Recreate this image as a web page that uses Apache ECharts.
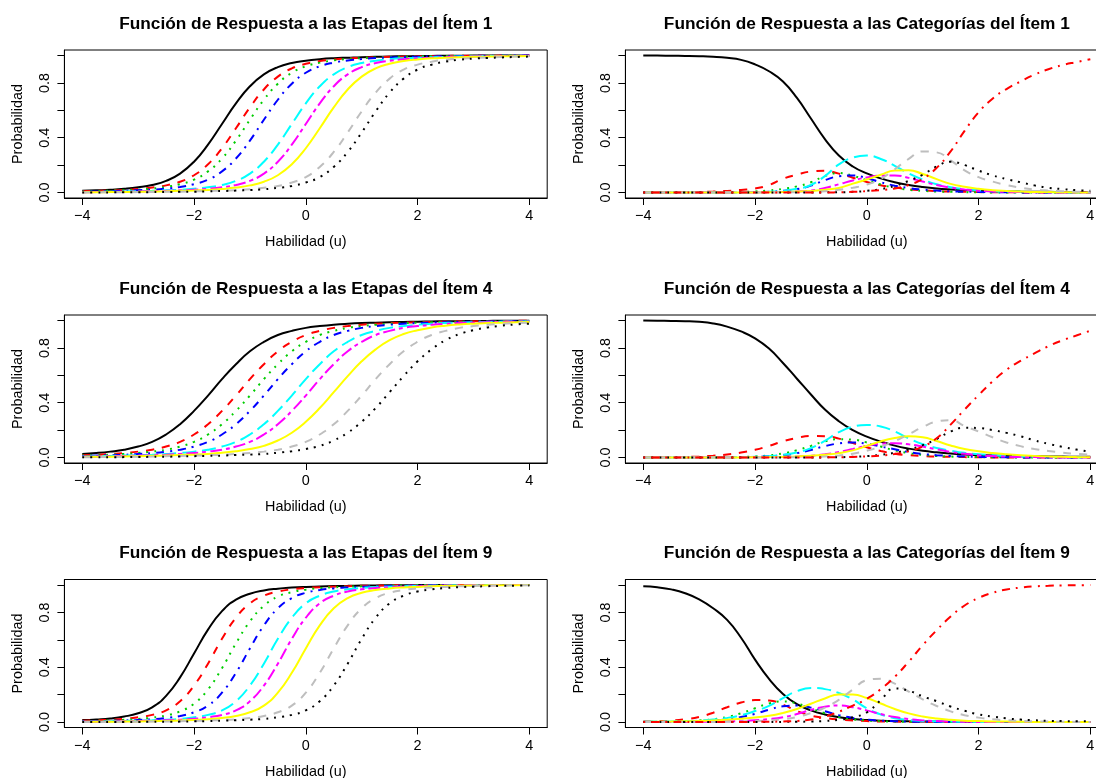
<!DOCTYPE html>
<html>
<head>
<meta charset="utf-8">
<script src="https://cdn.jsdelivr.net/npm/echarts@6/dist/echarts.min.js"></script>
<style>
  html, body { margin: 0; padding: 0; background: #ffffff; }
  #main { width: 1096px; height: 778px; }
</style>
</head>
<body>
<div id="main"></div>
<script>
// Ability grid shared by every curve
const habilidad = [-4, -3.75, -3.5, -3.25, -3, -2.75, -2.5, -2.25, -2, -1.75, -1.5, -1.25, -1, -0.75, -0.5, -0.25,
  0, 0.25, 0.5, 0.75, 1, 1.25, 1.5, 1.75, 2, 2.25, 2.5, 2.75, 3, 3.25, 3.5, 3.75, 4];

// Cumulative step response curves (one row per step)
const etapasItem1 = [
  [.012,.016,.020,.027,.038,.055,.085,.138,.225,.350,.500,.650,.775,.862,.915,.945,.962,.973,.980,.984,.988,.990,.993,.994,.996,.997,.998,.998,.999,.999,.999,.999,.999],
  [.009,.012,.015,.019,.026,.036,.052,.079,.126,.206,.323,.469,.621,.752,.846,.906,.939,.959,.971,.979,.983,.987,.990,.992,.994,.995,.997,.998,.998,.998,.999,.999,.999],
  [.008,.010,.013,.017,.021,.029,.041,.061,.094,.154,.248,.379,.531,.677,.794,.874,.921,.948,.964,.974,.981,.985,.988,.991,.993,.995,.996,.997,.998,.998,.999,.999,.999],
  [.006,.008,.010,.013,.017,.021,.029,.041,.061,.094,.154,.248,.379,.531,.677,.794,.874,.921,.948,.964,.974,.981,.985,.988,.991,.993,.995,.996,.997,.998,.998,.999,.999],
  [.003,.004,.006,.007,.010,.012,.016,.020,.027,.038,.055,.085,.138,.225,.350,.500,.650,.775,.862,.915,.945,.962,.973,.980,.984,.988,.990,.993,.994,.996,.997,.998,.998],
  [.002,.003,.004,.006,.007,.010,.012,.016,.020,.027,.038,.055,.085,.138,.225,.350,.500,.650,.775,.862,.915,.945,.962,.973,.980,.984,.988,.990,.993,.994,.996,.997,.998],
  [.002,.002,.003,.004,.005,.007,.009,.012,.015,.019,.026,.036,.052,.079,.126,.206,.323,.469,.621,.752,.846,.906,.939,.959,.971,.979,.983,.987,.990,.992,.994,.995,.997],
  [.001,.001,.002,.002,.003,.004,.005,.006,.009,.011,.014,.018,.024,.034,.048,.073,.113,.187,.296,.438,.592,.729,.831,.897,.933,.955,.969,.977,.982,.986,.989,.992,.994],
  [.001,.001,.001,.002,.002,.003,.004,.005,.006,.009,.011,.014,.018,.024,.034,.048,.073,.113,.187,.296,.438,.592,.729,.831,.897,.933,.955,.969,.977,.982,.986,.989,.992]
];
const etapasItem4 = [
  [.026,.033,.043,.057,.080,.114,.168,.243,.340,.452,.572,.681,.775,.844,.894,.924,.946,.959,.969,.976,.981,.984,.987,.989,.991,.993,.994,.995,.996,.997,.998,.998,.998],
  [.017,.020,.026,.033,.043,.057,.080,.114,.168,.243,.340,.452,.572,.681,.775,.844,.894,.924,.946,.959,.969,.976,.981,.984,.987,.989,.991,.993,.994,.995,.996,.997,.998],
  [.014,.017,.020,.026,.033,.043,.057,.080,.114,.168,.243,.340,.452,.572,.681,.775,.844,.894,.924,.946,.959,.969,.976,.981,.984,.987,.989,.991,.993,.994,.995,.996,.997],
  [.011,.014,.017,.020,.026,.033,.043,.057,.080,.114,.168,.243,.340,.452,.572,.681,.775,.844,.894,.924,.946,.959,.969,.976,.981,.984,.987,.989,.991,.993,.994,.995,.996],
  [.007,.010,.011,.014,.017,.020,.026,.033,.043,.057,.080,.114,.168,.243,.340,.452,.572,.681,.775,.844,.894,.924,.946,.959,.969,.976,.981,.984,.987,.989,.991,.993,.994],
  [.006,.007,.010,.011,.014,.017,.020,.026,.033,.043,.057,.080,.114,.168,.243,.340,.452,.572,.681,.775,.844,.894,.924,.946,.959,.969,.976,.981,.984,.987,.989,.991,.993],
  [.004,.005,.006,.008,.010,.012,.014,.018,.021,.026,.035,.046,.062,.085,.124,.181,.261,.361,.477,.594,.702,.789,.856,.901,.929,.949,.962,.971,.977,.981,.984,.987,.989],
  [.002,.003,.004,.005,.006,.007,.010,.011,.014,.017,.020,.026,.033,.043,.057,.080,.114,.168,.243,.340,.452,.572,.681,.775,.844,.894,.924,.946,.959,.969,.976,.981,.984],
  [.002,.002,.002,.003,.004,.005,.006,.008,.010,.012,.014,.018,.021,.026,.035,.046,.062,.085,.124,.181,.261,.361,.477,.594,.702,.789,.856,.901,.929,.949,.962,.971,.977]
];
const etapasItem9 = [
  [.014,.019,.026,.040,.064,.107,.191,.326,.500,.674,.809,.893,.936,.960,.973,.981,.986,.989,.992,.994,.996,.997,.998,.998,.999,.999,.999,.999,1,1,1,1,1],
  [.010,.013,.017,.023,.035,.052,.085,.152,.266,.426,.607,.761,.866,.922,.952,.968,.978,.984,.988,.991,.994,.995,.997,.998,.998,.999,.999,.999,.999,1,1,1,1],
  [.006,.009,.012,.016,.022,.032,.048,.078,.134,.238,.393,.574,.734,.848,.915,.948,.966,.977,.983,.987,.990,.993,.995,.997,.998,.998,.999,.999,.999,.999,1,1,1],
  [.004,.006,.008,.011,.015,.020,.029,.044,.071,.120,.214,.359,.537,.705,.830,.904,.943,.963,.975,.982,.986,.990,.993,.995,.996,.998,.998,.998,.999,.999,.999,.999,1],
  [.002,.003,.005,.007,.010,.013,.017,.023,.035,.052,.085,.152,.266,.426,.607,.761,.866,.922,.952,.968,.978,.984,.988,.991,.994,.995,.997,.998,.998,.999,.999,.999,.999],
  [.002,.002,.003,.005,.007,.010,.013,.017,.023,.035,.052,.085,.152,.266,.426,.607,.761,.866,.922,.952,.968,.978,.984,.988,.991,.994,.995,.997,.998,.998,.999,.999,.999],
  [.001,.002,.002,.003,.004,.006,.008,.011,.015,.020,.029,.044,.071,.120,.214,.359,.537,.705,.830,.904,.943,.963,.975,.982,.986,.990,.993,.995,.996,.998,.998,.998,.999],
  [.001,.001,.001,.002,.002,.003,.004,.006,.008,.011,.015,.020,.029,.044,.071,.120,.214,.359,.537,.705,.830,.904,.943,.963,.975,.982,.986,.990,.993,.995,.996,.998,.998],
  [.001,.001,.001,.001,.001,.002,.002,.003,.005,.007,.010,.013,.017,.023,.035,.052,.085,.152,.266,.426,.607,.761,.866,.922,.952,.968,.978,.984,.988,.991,.994,.995,.997]
];

// Category response curves (one row per category 0..9)
const categoriasItem1 = [
  [.999,.999,.998,.997,.995,.991,.983,.968,.935,.885,.81,.69,.54,.39,.27,.19,.14,.103,.075,.055,.04,.029,.022,.017,.013,.011,.009,.007,.006,.005,.004,.0035,.003],
  [0,0,.001,.002,.004,.007,.012,.019,.029,.055,.1,.13,.153,.158,.138,.108,.077,.053,.036,.024,.016,.01,.007,.005,.003,.002,.002,.001,.001,0,0,0,0],
  [0,0,0,0,.001,.001,.002,.004,.008,.015,.027,.045,.075,.12,.142,.122,.09,.058,.035,.02,.012,.007,.005,.003,.002,.001,.001,0,0,0,0,0,0],
  [0,0,0,0,0,.001,.001,.002,.003,.006,.012,.025,.05,.09,.118,.124,.105,.075,.05,.033,.022,.014,.009,.006,.004,.003,.002,.001,.001,0,0,0,0],
  [0,0,0,0,0,0,.001,.001,.003,.006,.012,.027,.055,.12,.205,.255,.27,.245,.195,.14,.095,.06,.039,.025,.016,.01,.007,.005,.003,.002,.001,.001,0],
  [0,0,0,0,0,0,0,.001,.001,.002,.004,.008,.015,.033,.06,.088,.11,.123,.125,.107,.08,.055,.036,.022,.013,.008,.005,.003,.002,.001,.001,0,0],
  [0,0,0,0,0,0,0,.001,.001,.002,.004,.007,.012,.02,.033,.065,.095,.13,.16,.163,.135,.098,.063,.042,.027,.017,.011,.007,.004,.003,.002,.001,.001],
  [0,0,0,0,0,0,0,0,0,.001,.002,.003,.005,.01,.02,.035,.058,.1,.17,.245,.3,.293,.235,.162,.112,.08,.055,.036,.022,.014,.009,.006,.004],
  [0,0,0,0,0,0,0,0,0,0,0,0,0,.001,.002,.005,.012,.025,.048,.085,.13,.19,.225,.2,.16,.125,.098,.075,.052,.035,.025,.017,.012],
  [0,0,0,0,0,0,0,0,0,0,0,0,0,0,.002,.005,.01,.018,.03,.055,.1,.18,.3,.45,.585,.685,.755,.81,.86,.9,.93,.952,.972]
];
const categoriasItem4 = [
  [.999,.998,.997,.995,.99,.978,.955,.92,.87,.795,.69,.575,.46,.35,.265,.2,.153,.117,.087,.065,.049,.038,.029,.022,.018,.015,.012,.01,.009,.008,.007,.006,.005],
  [.001,.002,.003,.005,.008,.013,.022,.036,.056,.085,.118,.143,.157,.155,.138,.105,.075,.047,.028,.017,.011,.007,.005,.003,.002,.001,.001,0,0,0,0,0,0],
  [0,0,0,0,.001,.001,.002,.004,.008,.016,.03,.053,.085,.118,.133,.13,.11,.08,.052,.032,.019,.011,.007,.004,.003,.002,.001,.001,0,0,0,0,0],
  [0,0,0,0,.001,.001,.002,.003,.005,.009,.017,.032,.055,.083,.103,.11,.1,.08,.06,.04,.026,.017,.011,.007,.004,.003,.002,.001,.001,0,0,0,0],
  [0,0,0,0,.001,.001,.002,.003,.005,.01,.02,.037,.068,.122,.185,.225,.238,.226,.19,.14,.098,.07,.05,.034,.024,.017,.012,.008,.005,.004,.002,.002,.001],
  [0,0,0,0,0,0,.001,.001,.002,.003,.005,.008,.013,.024,.04,.062,.085,.1,.105,.096,.08,.06,.041,.027,.017,.011,.007,.004,.003,.002,.001,.001,0],
  [0,0,0,0,0,.001,.001,.001,.002,.003,.005,.008,.013,.021,.032,.052,.085,.118,.142,.155,.148,.12,.088,.062,.045,.033,.024,.017,.012,.008,.005,.003,.002],
  [0,0,0,0,0,0,0,0,0,.001,.001,.002,.004,.008,.015,.028,.05,.08,.12,.17,.222,.262,.272,.23,.19,.148,.11,.083,.062,.048,.036,.027,.02],
  [0,0,0,0,0,0,0,0,0,0,0,0,0,.001,.002,.005,.01,.02,.035,.058,.09,.135,.19,.218,.215,.2,.18,.155,.125,.1,.078,.058,.042],
  [0,0,0,0,0,0,0,0,0,0,0,0,0,.001,.002,.004,.008,.014,.025,.045,.08,.14,.24,.35,.455,.555,.64,.705,.76,.812,.855,.89,.925]
];
const categoriasItem9 = [
  [.99,.983,.968,.94,.895,.83,.745,.615,.455,.315,.205,.13,.085,.055,.035,.022,.014,.01,.007,.005,.004,.003,.002,.001,.001,0,0,0,0,0,0,0,0],
  [.003,.005,.01,.02,.037,.068,.108,.142,.16,.157,.127,.08,.047,.03,.018,.011,.007,.004,.003,.002,.001,.001,0,0,0,0,0,0,0,0,0,0,0],
  [.001,.002,.003,.006,.011,.02,.037,.064,.1,.135,.15,.135,.1,.064,.037,.02,.011,.006,.003,.002,.001,0,0,0,0,0,0,0,0,0,0,0,0],
  [.001,.001,.002,.004,.007,.012,.021,.037,.06,.09,.115,.12,.105,.078,.05,.03,.017,.01,.006,.003,.002,.001,0,0,0,0,0,0,0,0,0,0,0],
  [.002,.003,.004,.007,.011,.018,.03,.05,.08,.118,.175,.225,.248,.24,.212,.165,.1,.055,.028,.015,.008,.005,.003,.002,.001,0,0,0,0,0,0,0,0],
  [0,0,.001,.001,.002,.003,.005,.008,.013,.021,.035,.058,.088,.112,.12,.108,.085,.058,.036,.021,.012,.007,.004,.002,.001,.001,0,0,0,0,0,0,0],
  [.001,.002,.003,.005,.008,.012,.017,.024,.033,.045,.066,.095,.133,.172,.2,.2,.175,.135,.095,.063,.04,.025,.016,.01,.007,.004,.003,.002,.001,.001,0,0,0],
  [0,0,0,0,.001,.001,.002,.004,.007,.012,.021,.037,.065,.105,.162,.237,.305,.315,.28,.222,.166,.117,.078,.05,.032,.02,.013,.008,.005,.003,.002,.001,.001],
  [0,0,0,0,0,0,0,0,0,0,.001,.002,.004,.008,.016,.035,.07,.16,.245,.228,.187,.152,.113,.082,.056,.04,.027,.018,.013,.009,.007,.006,.005],
  [0,0,0,0,0,0,0,.001,.001,.002,.004,.008,.018,.04,.075,.12,.17,.24,.33,.44,.56,.67,.77,.85,.905,.943,.967,.981,.99,.994,.997,.998,.999]
];

const titulosEtapas = [
  'Función de Respuesta a las Etapas del Ítem 1',
  'Función de Respuesta a las Etapas del Ítem 4',
  'Función de Respuesta a las Etapas del Ítem 9'
];
const titulosCategorias = [
  'Función de Respuesta a las Categorías del Ítem 1',
  'Función de Respuesta a las Categorías del Ítem 4',
  'Función de Respuesta a las Categorías del Ítem 9'
];
const ticksX = [-4, -2, 0, 2, 4];
const ticksY = [0, 0.2, 0.4, 0.6, 0.8, 1.0];
const etiquetasY = [0, 0.4, 0.8];

// Classic R palette and line types (lwd = 2)
const colores = ['#000000', '#FF0000', '#00CD00', '#0000FF', '#00FFFF', '#FF00FF', '#FFFF00', '#BEBEBE'];
const tiposLinea = ['solid', [8, 8], [2, 6], [2, 6, 8, 6], [14, 6], [4, 4, 12, 4]];

const fuente = '"Liberation Sans", Arial, Helvetica, sans-serif';
const tamEje = 14.4;
const tamTitulo = 17.28;
const filasTop = [50, 315, 579.5];
const colsLeft = [64.4, 625.4];
const anchoPanel = 482.8;
const altoPanel = 148;

const panels = [];
for (let r = 0; r < 3; r++) {
  panels.push({ col: 0, row: r, title: titulosEtapas[r], curves: [etapasItem1, etapasItem4, etapasItem9][r] });
  panels.push({ col: 1, row: r, title: titulosCategorias[r], curves: [categoriasItem1, categoriasItem4, categoriasItem9][r] });
}

const grid = [], xAxis = [], yAxis = [], title = [], series = [];
panels.forEach((p, i) => {
  const left = colsLeft[p.col];
  const top = filasTop[p.row];
  grid.push({
    left: left, top: top, width: anchoPanel, height: altoPanel,
    show: true, borderColor: '#000', borderWidth: 1, backgroundColor: 'transparent',
    containLabel: false, outerBoundsMode: 'none'
  });
  title.push({
    text: p.title, left: left + anchoPanel / 2, top: top - 34.5, textAlign: 'center', padding: 0,
    textStyle: { fontFamily: fuente, fontSize: tamTitulo, fontWeight: 'bold', color: '#000' }
  });
  xAxis.push({
    gridIndex: i, type: 'value', min: -4.32, max: 4.32,
    axisLine: { show: true, onZero: false, lineStyle: { color: '#000', width: 1 } },
    axisTick: { show: true, length: 7, customValues: ticksX, lineStyle: { color: '#000', width: 1 } },
    axisLabel: {
      show: true, customValues: ticksX, margin: 11.5, color: '#000', fontSize: tamEje, fontFamily: fuente,
      formatter: v => String(v).replace('-', '\u2212')
    },
    splitLine: { show: false },
    name: 'Habilidad (u)', nameLocation: 'middle', nameGap: 37.3,
    nameTextStyle: { color: '#000', fontSize: tamEje, fontFamily: fuente }
  });
  yAxis.push({
    gridIndex: i, type: 'value', min: -0.04, max: 1.04,
    axisLine: { show: true, onZero: false, lineStyle: { color: '#000', width: 1 } },
    axisTick: { show: true, length: 7, customValues: ticksY, lineStyle: { color: '#000', width: 1 } },
    axisLabel: {
      show: true, customValues: etiquetasY, rotate: 90, margin: 12, color: '#000', fontSize: tamEje, fontFamily: fuente,
      formatter: v => v.toFixed(1)
    },
    splitLine: { show: false },
    name: 'Probabilidad', nameLocation: 'middle', nameGap: 39, nameRotate: 90,
    nameTextStyle: { color: '#000', fontSize: tamEje, fontFamily: fuente }
  });
  p.curves.forEach((fila, k) => {
    series.push({
      type: 'line', xAxisIndex: i, yAxisIndex: i,
      data: habilidad.map((x, j) => [x, fila[j]]),
      showSymbol: false, symbol: 'none', smooth: true, silent: true,
      lineStyle: { color: colores[k % 8], width: 2, type: tiposLinea[k % 6] },
      z: 2
    });
  });
});

const chart = echarts.init(document.getElementById('main'), null, { renderer: 'canvas' });
chart.setOption({
  animation: false,
  backgroundColor: '#ffffff',
  title, grid, xAxis, yAxis, series
});
</script>
</body>
</html>
